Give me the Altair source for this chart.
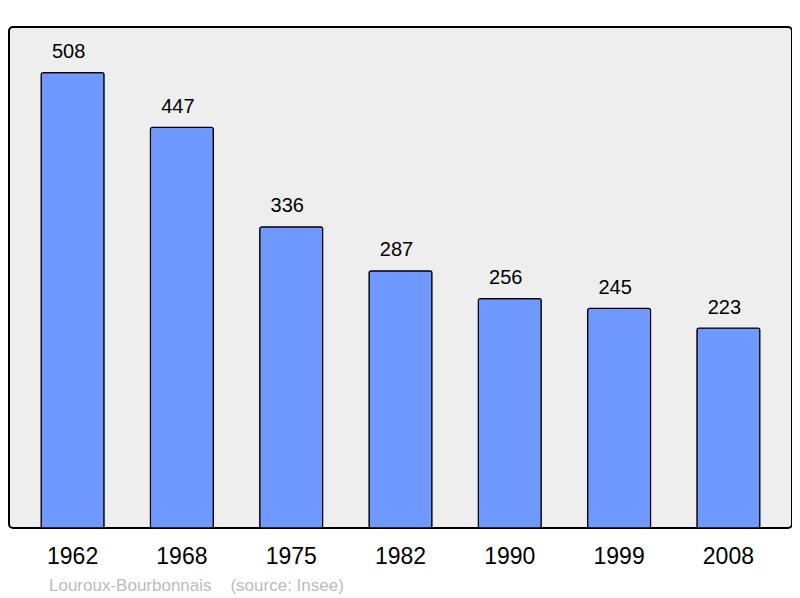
import altair as alt
import pandas as pd

years = ["1962", "1968", "1975", "1982", "1990", "1999", "2008"]
population = [508, 447, 336, 287, 256, 245, 223]

df = pd.DataFrame({"year": years, "pop": population})

FONT = "Liberation Sans"

base = alt.Chart(df).encode(
    x=alt.X("year:N", sort=years,
            scale=alt.Scale(paddingInner=0.424, paddingOuter=0.294),
            axis=alt.Axis(title=None, labelAngle=0, ticks=False, domain=False,
                          labelFontSize=23, labelFont=FONT, labelColor="#000000",
                          labelPadding=17, grid=False)),
    y=alt.Y("pop:Q", scale=alt.Scale(domain=[0, 559], nice=False, zero=True),
            axis=None),
)

bars = base.mark_bar(color="#7099ff", stroke="#000000", strokeWidth=1.2,
                     cornerRadius=2)

labels = base.mark_text(baseline="alphabetic", dy=-14.5, dx=-4, fontSize=20,
                        font=FONT, color="#000000").encode(text="pop:Q")

chart = (bars + labels).properties(
    width=783,
    height=501,
    autosize=alt.AutoSizeParams(type="none"),
    padding={"left": 1, "top": 19, "right": 0, "bottom": 68},
    background="#ffffff",
    title=alt.TitleParams(
        text="Louroux-Bourbonnais\u00a0\u00a0\u00a0\u00a0(source: Insee)",
        orient="bottom", anchor="start", fontSize=17, font=FONT,
        fontWeight="normal", color="#bbbbbb", dx=40, offset=10,
    ),
).configure_view(
    fill="#eeeeee", stroke="#000000", strokeWidth=2, cornerRadius=4
)

chart.save("out.html", embed_options={"renderer": "svg", "actions": False})
